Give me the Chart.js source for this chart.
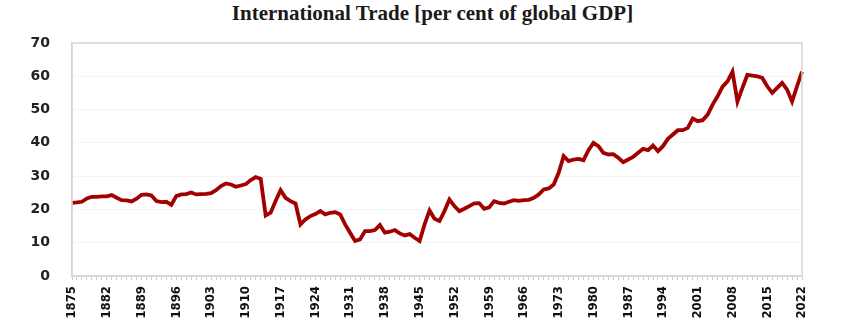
<!DOCTYPE html>
<html>
<head>
<meta charset="utf-8">
<script src="https://cdn.jsdelivr.net/npm/chart.js@4/dist/chart.umd.min.js"></script>
<style>
    html, body { margin: 0; padding: 0; background: #fff; }
    #wrap { position: relative; width: 841px; height: 335px; }
    #title {
        position: absolute; left: 12px; top: 1px; width: 841px; text-align: center;
        font: bold 21px "Liberation Serif", "DejaVu Serif", serif; color: #1a1a1a;
    }
    canvas { position: absolute; left: 0; top: 0; }
</style>
</head>
<body>
<div id="wrap">
    <div id="title">International Trade [per cent of global GDP]</div>
    <canvas id="trade-chart" width="841" height="335"></canvas>
</div>
<script>
// years 1875..2022, one value per year (per cent of global GDP)
const years = [];
for (let y = 1875; y <= 2022; y++) years.push(String(y));

const tradeShare = [
    22.0, 22.1, 22.3, 23.3, 23.8, 23.8, 23.9, 23.9, 24.3, 23.5, // 1875-1884
    22.8, 22.7, 22.4, 23.2, 24.4, 24.5, 24.2, 22.5, 22.2, 22.3, // 1885-1894
    21.4, 24.0, 24.5, 24.6, 25.1, 24.5, 24.6, 24.7, 24.9, 25.8, // 1895-1904
    27.0, 27.8, 27.5, 26.8, 27.2, 27.6, 28.8, 29.7, 29.2, 18.2, // 1905-1914
    19.0, 22.5, 25.8, 23.5, 22.5, 21.8, 15.5, 17.0, 18.0, 18.6, // 1915-1924
    19.5, 18.5, 19.0, 19.2, 18.5, 15.5, 13.0, 10.5, 11.0, 13.5, // 1925-1934
    13.5, 13.8, 15.3, 13.0, 13.3, 13.8, 12.8, 12.2, 12.6, 11.5, // 1935-1944
    10.5, 15.5, 19.7, 17.2, 16.5, 19.5, 23.0, 21.0, 19.5, 20.2, // 1945-1954
    21.0, 21.8, 21.9, 20.2, 20.6, 22.5, 22.0, 21.8, 22.3, 22.8, // 1955-1964
    22.6, 22.8, 22.9, 23.5, 24.5, 26.0, 26.3, 27.5, 31.0, 36.0, // 1965-1974
    34.5, 35.0, 35.2, 34.8, 37.8, 40.0, 39.0, 37.0, 36.5, 36.6, // 1975-1984
    35.5, 34.2, 35.0, 35.8, 37.0, 38.2, 37.8, 39.2, 37.5, 39.0, // 1985-1994
    41.2, 42.5, 43.8, 43.8, 44.5, 47.3, 46.5, 46.8, 48.5, 51.5, // 1995-2004
    54.0, 56.9, 58.5, 61.4, 52.4, 56.5, 60.4, 60.2, 60.0, 59.5, // 2005-2014
    57.0, 55.0, 56.5, 58.0, 56.0, 52.4, 57.0, 61.4              // 2015-2022
];

const tickYears = ["1875", "1882", "1889", "1896", "1903", "1910", "1917", "1924", "1931",
    "1938", "1945", "1952", "1959", "1966", "1973", "1980", "1987", "1994", "2001",
    "2008", "2015", "2022"];

const yTicks = [0, 10, 20, 30, 40, 50, 60, 70];

// draws the light frame round the plot area
const framePlugin = {
    id: "frame",
    afterDraw(chart) {
        const { ctx, chartArea } = chart;
        ctx.save();
        ctx.strokeStyle = "#d6d6d6";
        ctx.lineWidth = 1.5;
        ctx.strokeRect(chartArea.left, chartArea.top, chartArea.right - chartArea.left, chartArea.bottom - chartArea.top);
        ctx.restore();
    }
};

const ctx = document.getElementById("trade-chart").getContext("2d");

new Chart(ctx, {
    type: "line",
    data: {
        labels: years,
        datasets: [{
            label: "International Trade",
            data: tradeShare,
            borderColor: "#a30000",
            borderWidth: 3.8,
            pointRadius: 0,
            tension: 0,
            fill: false
        }]
    },
    options: {
        responsive: false,
        animation: false,
        layout: { padding: { left: 0, right: 39, top: 43, bottom: 0 } },
        plugins: {
            legend: { display: false },
            title: { display: false },
            tooltip: { enabled: false }
        },
        scales: {
            x: {
                offset: false,
                afterFit: scale => { scale.height = 59; },
                grid: {
                    display: true,
                    drawOnChartArea: false,
                    drawTicks: true,
                    tickLength: 4,
                    color: "#cfcfcf"
                },
                border: { display: true, color: "#d6d6d6", width: 1.5 },
                ticks: {
                    autoSkip: false,
                    maxRotation: 90,
                    minRotation: 90,
                    padding: 6,
                    color: "#111",
                    font: { family: "'Liberation Sans Narrow', 'DejaVu Sans Condensed', sans-serif", size: 13, weight: "bold" },
                    callback: function (value) {
                        const label = this.getLabelForValue(value);
                        return tickYears.includes(label) ? label : "";
                    }
                }
            },
            y: {
                min: 0,
                max: 70,
                afterFit: scale => { scale.width = 72; },
                afterBuildTicks: scale => { scale.ticks = yTicks.map(v => ({ value: v })); },
                grid: {
                    color: "#f5f5f5",
                    drawTicks: false
                },
                border: { display: true, color: "#d6d6d6", width: 1.5 },
                ticks: {
                    padding: 22,
                    color: "#222",
                    font: { family: "'DejaVu Sans', Verdana, sans-serif", size: 14, weight: "bold" }
                }
            }
        }
    },
    plugins: [framePlugin]
});
</script>
</body>
</html>
